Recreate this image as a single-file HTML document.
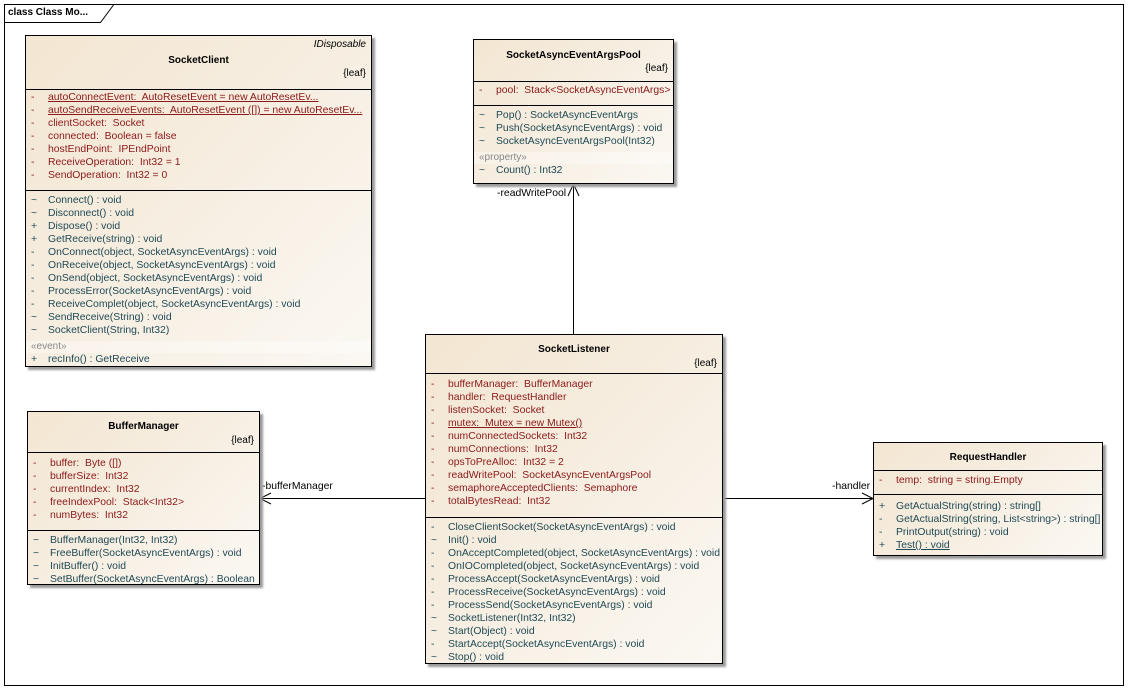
<!DOCTYPE html>
<html><head><meta charset="utf-8"><style>
html,body{margin:0;padding:0;background:#fff;}
body{width:1128px;height:689px;position:relative;overflow:hidden;font-family:"Liberation Sans",sans-serif;font-size:10px;}
.box{position:absolute;border:1px solid #000;background:linear-gradient(135deg,#f3e6d2 0%,#f7efe3 55%,#fbf8f3 100%);box-shadow:3px 3px 2px #9a9a9a;box-sizing:border-box;}
.hd{position:relative;border-bottom:1px solid #000;box-sizing:border-box;}
.ttl{position:absolute;left:0;right:0;text-align:center;font-weight:bold;}
.leaf{position:absolute;right:5px;}
.cmp{border-bottom:1px solid #000;box-sizing:border-box;}
.cmp:last-child{border-bottom:none;}
.r{height:13px;line-height:13px;white-space:nowrap;position:relative;font-size:10.4px;}
.r i{font-style:normal;position:absolute;left:5px;}
.r span{position:absolute;left:22px;}
.a{color:#8b1a1a;}
.m{color:#1f4a55;}
.u span{text-decoration:underline;}
.st{color:#888;background:rgba(255,255,255,0.35);padding-left:5px;height:12px;line-height:12px;margin-top:1px;}
.lbl{position:absolute;font-size:10.4px;color:#000;white-space:nowrap;}
</style></head><body>
<svg width="1128" height="689" style="position:absolute;left:0;top:0">
<rect x="4.5" y="4.5" width="1119" height="681" fill="none" stroke="#000"/>
<polyline points="4.5,22.5 100.5,22.5 113.5,5" fill="none" stroke="#000"/>
<line x1="573.5" y1="334" x2="573.5" y2="184" stroke="#000"/>
<polyline points="568,196 573.5,184 579,196" fill="none" stroke="#000"/>
<line x1="425" y1="498.5" x2="260" y2="498.5" stroke="#000"/>
<polyline points="271,493 260,498.5 271,504" fill="none" stroke="#000"/>
<line x1="722" y1="498.5" x2="873" y2="498.5" stroke="#000"/>
<polyline points="862,493 873,498.5 862,504" fill="none" stroke="#000"/>
</svg>
<div class="lbl" style="left:8px;top:7px;font-weight:bold;font-size:10px;">class Class Mo...</div>
<div class="lbl" style="left:497px;top:188px;">-readWritePool</div>
<div class="lbl" style="left:262px;top:481px;">-bufferManager</div>
<div class="lbl" style="left:832px;top:481px;">-handler</div>

<!-- SocketClient -->
<div class="box" style="left:25px;top:35px;width:347px;height:332px;">
 <div class="hd" style="height:54px;">
  <div class="leaf" style="top:3px;font-style:italic;">IDisposable</div>
  <div class="ttl" style="top:19px;">SocketClient</div>
  <div class="leaf" style="top:32px;">{leaf}</div>
 </div>
 <div class="cmp a" style="height:101px;padding-top:1px;">
  <div class="r u"><i>-</i><span>autoConnectEvent:&nbsp; AutoResetEvent = new AutoResetEv...</span></div>
  <div class="r u"><i>-</i><span>autoSendReceiveEvents:&nbsp; AutoResetEvent ([]) = new AutoResetEv...</span></div>
  <div class="r"><i>-</i><span>clientSocket:&nbsp; Socket</span></div>
  <div class="r"><i>-</i><span>connected:&nbsp; Boolean = false</span></div>
  <div class="r"><i>-</i><span>hostEndPoint:&nbsp; IPEndPoint</span></div>
  <div class="r"><i>-</i><span>ReceiveOperation:&nbsp; Int32 = 1</span></div>
  <div class="r"><i>-</i><span>SendOperation:&nbsp; Int32 = 0</span></div>
 </div>
 <div class="cmp m" style="padding-top:3px;">
  <div class="r"><i>~</i><span>Connect() : void</span></div>
  <div class="r"><i>~</i><span>Disconnect() : void</span></div>
  <div class="r"><i>+</i><span>Dispose() : void</span></div>
  <div class="r"><i>+</i><span>GetReceive(string) : void</span></div>
  <div class="r"><i>-</i><span>OnConnect(object, SocketAsyncEventArgs) : void</span></div>
  <div class="r"><i>-</i><span>OnReceive(object, SocketAsyncEventArgs) : void</span></div>
  <div class="r"><i>-</i><span>OnSend(object, SocketAsyncEventArgs) : void</span></div>
  <div class="r"><i>-</i><span>ProcessError(SocketAsyncEventArgs) : void</span></div>
  <div class="r"><i>-</i><span>ReceiveComplet(object, SocketAsyncEventArgs) : void</span></div>
  <div class="r"><i>~</i><span>SendReceive(String) : void</span></div>
  <div class="r"><i>~</i><span>SocketClient(String, Int32)</span></div>
  <div class="st" style="margin-top:4px;">«event»</div>
  <div class="r"><i>+</i><span>recInfo() : GetReceive</span></div>
 </div>
</div>

<!-- SocketAsyncEventArgsPool -->
<div class="box" style="left:473px;top:39px;width:201px;height:145px;">
 <div class="hd" style="height:42px;">
  <div class="ttl" style="top:10px;">SocketAsyncEventArgsPool</div>
  <div class="leaf" style="top:23px;">{leaf}</div>
 </div>
 <div class="cmp a" style="height:24px;padding-top:2px;">
  <div class="r"><i>-</i><span>pool:&nbsp; Stack&lt;SocketAsyncEventArgs&gt;</span></div>
 </div>
 <div class="cmp m" style="padding-top:3px;">
  <div class="r"><i>~</i><span>Pop() : SocketAsyncEventArgs</span></div>
  <div class="r"><i>~</i><span>Push(SocketAsyncEventArgs) : void</span></div>
  <div class="r"><i>~</i><span>SocketAsyncEventArgsPool(Int32)</span></div>
  <div class="st" style="margin-top:4px;">«property»</div>
  <div class="r"><i>~</i><span>Count() : Int32</span></div>
 </div>
</div>

<!-- SocketListener -->
<div class="box" style="left:425px;top:334px;width:298px;height:330px;">
 <div class="hd" style="height:39px;">
  <div class="ttl" style="top:9px;">SocketListener</div>
  <div class="leaf" style="top:23px;">{leaf}</div>
 </div>
 <div class="cmp a" style="height:144px;padding-top:4px;">
  <div class="r"><i>-</i><span>bufferManager:&nbsp; BufferManager</span></div>
  <div class="r"><i>-</i><span>handler:&nbsp; RequestHandler</span></div>
  <div class="r"><i>-</i><span>listenSocket:&nbsp; Socket</span></div>
  <div class="r u"><i>-</i><span>mutex:&nbsp; Mutex = new Mutex()</span></div>
  <div class="r"><i>-</i><span>numConnectedSockets:&nbsp; Int32</span></div>
  <div class="r"><i>-</i><span>numConnections:&nbsp; Int32</span></div>
  <div class="r"><i>-</i><span>opsToPreAlloc:&nbsp; Int32 = 2</span></div>
  <div class="r"><i>-</i><span>readWritePool:&nbsp; SocketAsyncEventArgsPool</span></div>
  <div class="r"><i>-</i><span>semaphoreAcceptedClients:&nbsp; Semaphore</span></div>
  <div class="r"><i>-</i><span>totalBytesRead:&nbsp; Int32</span></div>
 </div>
 <div class="cmp m" style="padding-top:3px;">
  <div class="r"><i>-</i><span>CloseClientSocket(SocketAsyncEventArgs) : void</span></div>
  <div class="r"><i>~</i><span>Init() : void</span></div>
  <div class="r"><i>-</i><span>OnAcceptCompleted(object, SocketAsyncEventArgs) : void</span></div>
  <div class="r"><i>-</i><span>OnIOCompleted(object, SocketAsyncEventArgs) : void</span></div>
  <div class="r"><i>-</i><span>ProcessAccept(SocketAsyncEventArgs) : void</span></div>
  <div class="r"><i>-</i><span>ProcessReceive(SocketAsyncEventArgs) : void</span></div>
  <div class="r"><i>-</i><span>ProcessSend(SocketAsyncEventArgs) : void</span></div>
  <div class="r"><i>~</i><span>SocketListener(Int32, Int32)</span></div>
  <div class="r"><i>~</i><span>Start(Object) : void</span></div>
  <div class="r"><i>-</i><span>StartAccept(SocketAsyncEventArgs) : void</span></div>
  <div class="r"><i>~</i><span>Stop() : void</span></div>
 </div>
</div>

<!-- BufferManager -->
<div class="box" style="left:27px;top:411px;width:233px;height:174px;">
 <div class="hd" style="height:41px;">
  <div class="ttl" style="top:9px;">BufferManager</div>
  <div class="leaf" style="top:23px;">{leaf}</div>
 </div>
 <div class="cmp a" style="height:78px;padding-top:4px;">
  <div class="r"><i>-</i><span>buffer:&nbsp; Byte ([])</span></div>
  <div class="r"><i>-</i><span>bufferSize:&nbsp; Int32</span></div>
  <div class="r"><i>-</i><span>currentIndex:&nbsp; Int32</span></div>
  <div class="r"><i>-</i><span>freeIndexPool:&nbsp; Stack&lt;Int32&gt;</span></div>
  <div class="r"><i>-</i><span>numBytes:&nbsp; Int32</span></div>
 </div>
 <div class="cmp m" style="padding-top:3px;">
  <div class="r"><i>~</i><span>BufferManager(Int32, Int32)</span></div>
  <div class="r"><i>~</i><span>FreeBuffer(SocketAsyncEventArgs) : void</span></div>
  <div class="r"><i>~</i><span>InitBuffer() : void</span></div>
  <div class="r"><i>~</i><span>SetBuffer(SocketAsyncEventArgs) : Boolean</span></div>
 </div>
</div>

<!-- RequestHandler -->
<div class="box" style="left:873px;top:442px;width:230px;height:114px;">
 <div class="hd" style="height:28px;">
  <div class="ttl" style="top:9px;">RequestHandler</div>
 </div>
 <div class="cmp a" style="height:24px;padding-top:3px;">
  <div class="r"><i>-</i><span>temp:&nbsp; string = string.Empty</span></div>
 </div>
 <div class="cmp m" style="padding-top:5px;">
  <div class="r"><i>+</i><span>GetActualString(string) : string[]</span></div>
  <div class="r"><i>-</i><span>GetActualString(string, List&lt;string&gt;) : string[]</span></div>
  <div class="r"><i>-</i><span>PrintOutput(string) : void</span></div>
  <div class="r u"><i>+</i><span>Test() : void</span></div>
 </div>
</div>
</body></html>
